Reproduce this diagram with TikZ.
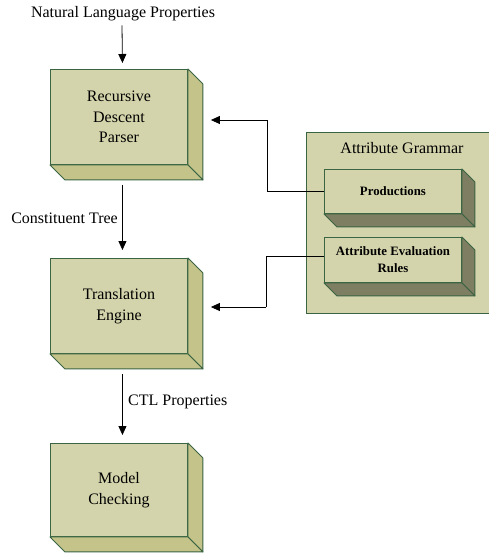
\documentclass[tikz,border=0pt]{standalone}
\usepackage{fontspec}
\setmainfont{Liberation Serif}
\usetikzlibrary{arrows.meta}

\definecolor{facefill}{HTML}{D4D4AC}
\definecolor{sidefill}{HTML}{C4C48A}
\definecolor{darkside}{HTML}{7E7E62}
\definecolor{edgegreen}{HTML}{3A6442}

\tikzset{
  textfont/.style={font=\fontsize{16}{20.5}\selectfont},
  boldfont/.style={font=\fontsize{12.8}{17}\selectfont\bfseries},
  face/.style={draw=edgegreen, fill=facefill, line width=0.9pt, align=center,
    inner sep=0pt, anchor=north west, textfont},
  bigface/.style={face, minimum width=137pt, minimum height=95pt},
  smallface/.style={face, minimum width=137pt, minimum height=44pt, boldfont},
  sideface/.style={draw=edgegreen, fill=sidefill, line width=0.9pt, line join=round},
  darkface/.style={draw=edgegreen, fill=darkside, line width=0.9pt, line join=round},
  container/.style={draw=edgegreen, fill=facefill, line width=0.9pt},
  label/.style={textfont, inner sep=0pt},
  arr/.style={draw=black, line width=0.8pt,
    -{Triangle[length=9pt,width=8pt]}},
  link/.style={draw=black, line width=0.8pt}
}

% side and bottom faces of a slab whose front face is node #1
\newcommand{\slabfaces}[3]{%
  \path[#3] (#1.north east) -- ++(#2,#2) -- ([shift={(#2,#2)}]#1.south east)
    -- (#1.south east) -- cycle;
  \path[#3] (#1.south west) -- (#1.south east) -- ([shift={(#2,#2)}]#1.south east)
    -- ([shift={(#2,#2)}]#1.south west) -- cycle;
}

\begin{document}
\begin{tikzpicture}[x=1pt, y=-1pt]
  \useasboundingbox (0,0) rectangle (489,555);

  % attribute grammar panel
  \path[container] (489,132) -- (306,132) -- (306,313) -- (489,313);
  \node[label] (ag) at (402,148) {Attribute Grammar};

  % main pipeline
  \node[bigface] (rdp) at (50,69) {Recursive\\Descent\\Parser};
  \slabfaces{rdp}{15}{sideface}
  \node[bigface] (te) at (50,258) {Translation\\Engine};
  \slabfaces{te}{15}{sideface}
  \node[bigface, minimum height=93pt] (mc) at (50,443) {Model\\Checking};
  \slabfaces{mc}{15}{sideface}

  % grammar parts
  \node[smallface] (prod) at (324,169) {Productions};
  \slabfaces{prod}{13}{darkface}
  \node[smallface, minimum height=45pt] (aer) at (324,237) {Attribute Evaluation\\Rules};
  \slabfaces{aer}{13}{darkface}

  % flow labels
  \node[label] (nlp) at (123,14) {Natural Language Properties};
  \node[label, anchor=east] (ct) at (118,218) {Constituent Tree};
  \node[label, anchor=west] (ctl) at (128,402) {CTL Properties};

  % flow arrows
  \draw[arr] ([xshift=-1pt,yshift=-4pt]nlp.south) -- ([xshift=3.5pt,yshift=6pt]rdp.north);
  \draw[arr] ([xshift=3.5pt,yshift=-20pt]rdp.south) -- ([xshift=3.5pt,yshift=8pt]te.north);
  \draw[arr] ([xshift=3.5pt,yshift=-20pt]te.south) -- ([xshift=3.5pt,yshift=8pt]mc.north);

  % grammar feedback connectors
  \coordinate (k1) at (267,191);
  \coordinate (k2) at (266,256);
  \draw[link] (prod.west |- k1) -- (k1) -- (k1 |- 0,120);
  \draw[arr] (k1 |- 0,120) -- ([xshift=23pt]rdp.east |- 0,120);
  \draw[link] (aer.west |- k2) -- (k2) -- (k2 |- 0,307);
  \draw[arr] (k2 |- 0,307) -- ([xshift=23pt]te.east |- 0,307);
\end{tikzpicture}
\end{document}
